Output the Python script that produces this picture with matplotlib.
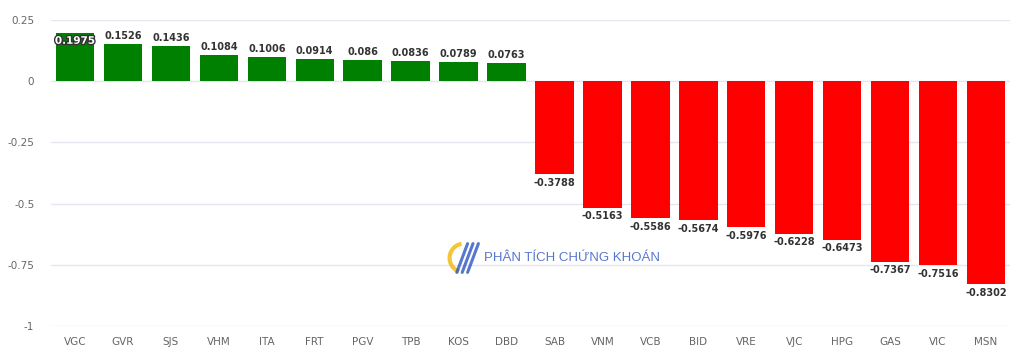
import matplotlib.pyplot as plt
import matplotlib.patheffects as pe
from matplotlib.patches import Arc
import numpy as np

tickers = ['VGC', 'GVR', 'SJS', 'VHM', 'ITA', 'FRT', 'PGV', 'TPB', 'KOS', 'DBD',
           'SAB', 'VNM', 'VCB', 'BID', 'VRE', 'VJC', 'HPG', 'GAS', 'VIC', 'MSN']
values = [0.1975, 0.1526, 0.1436, 0.1084, 0.1006, 0.0914, 0.086, 0.0836, 0.0789, 0.0763,
          -0.3788, -0.5163, -0.5586, -0.5674, -0.5976, -0.6228, -0.6473, -0.7367, -0.7516, -0.8302]
yticks = [0.25, 0, -0.25, -0.5, -0.75, -1]
ylabels = ['0.25', '0', '-0.25', '-0.5', '-0.75', '-1']

fig = plt.figure(figsize=(10.24, 3.56), dpi=100)
ax = fig.add_axes([51 / 1024, 30 / 356, 959 / 1024, 306 / 356])

x = np.arange(len(tickers))
colors = ['#008000' if v >= 0 else '#ff0000' for v in values]
ax.bar(x, values, width=0.8, color=colors, zorder=2)

ax.set_xlim(-0.5, len(tickers) - 0.5)
ax.set_ylim(-1, 0.25)
ax.set_yticks(yticks)
ax.set_yticklabels(ylabels, color='#666666', fontsize=7.5)
ax.set_xticks(x)
ax.set_xticklabels(tickers, color='#666666', fontsize=7.5)
ax.tick_params(length=0, axis='y', pad=12)
ax.tick_params(length=0, axis='x', pad=8)
for s in ax.spines.values():
    s.set_visible(False)
ax.grid(axis='y', color='#e6e6f0', linewidth=1, zorder=0)
ax.set_axisbelow(True)

for i, v in enumerate(values):
    if i == 0:
        # first label sits inside the bar with an outline
        ax.text(i, v - 0.012, str(v), ha='center', va='top', fontsize=7.5, color='white',
                fontweight='bold',
                path_effects=[pe.withStroke(linewidth=2, foreground='#333333')], zorder=3)
    elif v >= 0:
        ax.text(i, v + 0.012, str(v), ha='center', va='bottom', fontsize=7,
                color='#333333', fontweight='bold', zorder=3)
    else:
        ax.text(i, v - 0.015, str(v), ha='center', va='top', fontsize=7,
                color='#333333', fontweight='bold', zorder=3)

# watermark
fig.text(484 / 1024, 1 - 258 / 356, 'PHÂN TÍCH CHỨNG KHOÁN', fontsize=9.5,
         color='#3a5fc8', alpha=0.85, va='center', ha='left', family='Liberation Sans')
logo = fig.add_axes([446 / 1024, 1 - 276 / 356, 36 / 1024, 36 / 356])
logo.set_xlim(0, 1)
logo.set_ylim(0, 1)
logo.axis('off')
logo.add_patch(Arc((0.5, 0.5), 0.8, 0.8, theta1=100, theta2=250, color='#f2b705', lw=3, alpha=0.8))
for x0 in [0.3, 0.45, 0.6]:
    logo.plot([x0, x0 + 0.3], [0.1, 0.9], color='#2f55c0', lw=2.2, alpha=0.8,
              solid_capstyle='round')

fig.savefig('out.png', dpi=100)
